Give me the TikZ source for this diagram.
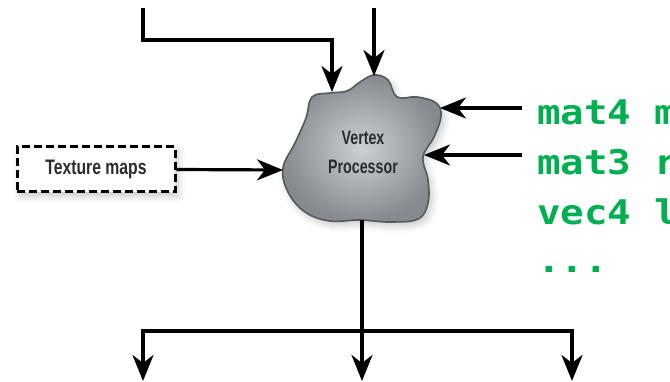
\documentclass[tikz,border=0pt]{standalone}
\usepackage{fontspec}
\usetikzlibrary{arrows.meta,shadows.blur}
\newfontfamily\labelfont[FakeStretch=0.75]{Liberation Sans}
\newfontfamily\blobfont[FakeStretch=0.73]{Liberation Sans}
\newfontfamily\codefont[FakeStretch=1.15]{DejaVu Sans Mono}
\definecolor{codegreen}{HTML}{00B050}
\definecolor{labelgray}{HTML}{2A2C2F}
\definecolor{blobedge}{HTML}{55585D}
\definecolor{blobin}{HTML}{CDD0D3}
\definecolor{blobout}{HTML}{868A8F}
\tikzset{
  wire/.style={draw=black, line width=3.2pt},
  conn/.style={wire, -{Stealth[length=26pt,width=21pt,inset=8pt]}},
  labeltext/.style={font=\labelfont\bfseries\fontsize{21}{29}\selectfont, text=labelgray, align=center},
  blobtext/.style={font=\blobfont\bfseries\fontsize{19.5}{29}\selectfont, text=labelgray, align=center},
  codetext/.style={font=\codefont\bfseries\fontsize{34}{40}\selectfont, text=codegreen, anchor=base west, inner sep=0pt},
  soft/.style={blur shadow={shadow xshift=3pt, shadow yshift=-4pt, shadow opacity=22, shadow blur radius=7pt}}
}
\begin{document}
\begin{tikzpicture}[x=1pt,y=-1pt]
\useasboundingbox (0,0) rectangle (670,382);
\clip (0,0) rectangle (670,382);

% the processor blob
\path[soft, draw=blobedge, line width=1.6pt, inner color=blobin, outer color=blobout]
  plot[smooth cycle, tension=0.65] coordinates {
    (330,93) (347,91) (360,82) (374,75) (388,80) (397,97) (417,97) (436,103)
    (441,116) (434,137) (423,157) (428,180) (428,203) (418,219) (390,222)
    (360,220) (330,221) (305,212) (288,192) (283,168) (295,143) (306,118) (312,97)};
\node[blobtext] (vp) at (363,152) {Vertex\\Processor};

% attachment points on the blob outline
\coordinate (vpA) at (332,92);
\coordinate (vpB) at (374,76);
\coordinate (vpC) at (440,108);
\coordinate (vpD) at (424,155);
\coordinate (vpE) at (362,220);
\coordinate (vpW) at (283,170);

% texture input
\node[soft, draw=black, fill=white, line width=3pt, dash pattern=on 8pt off 4pt,
      minimum width=158, minimum height=45, labeltext] (tex) at (96,169.5) {Texture maps};

% free ends
\coordinate (inA) at (143,8);
\coordinate (inB) at (374,8);
\coordinate (inC) at (522,108);
\coordinate (inD) at (522,155);
\coordinate (split) at (362,331);
\coordinate (outA) at (143,381);
\coordinate (outB) at (362,381);
\coordinate (outC) at (572,381);

% connectors
\draw[conn] (inA) -- ++(0,32) -| (vpA);
\draw[conn] (inB) -- (vpB);
\draw[conn] (inC) -- (vpC);
\draw[conn] (inD) -- (vpD);
\draw[conn] (tex.east) -- (vpW);
\draw[wire] (vpE) -- (split);
\draw[conn] (split) -- (outB);
\draw[conn] (split) -| (outA);
\draw[conn] (split) -| (outC);

% uniform declarations
\node[codetext] (u1) at (537,125) {mat4 m};
\node[codetext] (u2) at (537,175) {mat3 r};
\node[codetext] (u3) at (537,225) {vec4 l};
\node[codetext] (u4) at (537,273) {...};
\end{tikzpicture}
\end{document}
